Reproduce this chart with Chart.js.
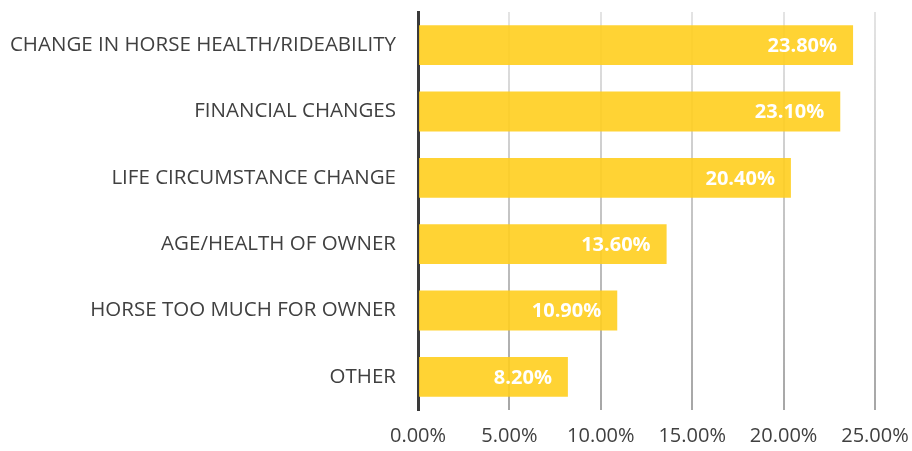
<!DOCTYPE html>
<html>
<head>
<meta charset="utf-8">
<script src="https://cdn.jsdelivr.net/npm/chart.js@4"></script>
<style>
html,body{margin:0;padding:0;background:#fff;}
#wrap{width:912px;height:451px;position:relative;}
</style>
</head>
<body>
<div id="wrap"><canvas id="c" width="912" height="451"></canvas></div>
<script>
const categories = ["CHANGE IN HORSE HEALTH/RIDEABILITY","FINANCIAL CHANGES","LIFE CIRCUMSTANCE CHANGE","AGE/HEALTH OF OWNER","HORSE TOO MUCH FOR OWNER","OTHER"];
const values = [23.8, 23.1, 20.4, 13.6, 10.9, 8.2];
const tickValues = [0, 5, 10, 15, 20, 25];

const FONT = "'Open Sans', sans-serif";

const labelPlugin = {
  id: 'barLabels',
  afterDatasetsDraw(chart) {
    const ctx = chart.ctx;
    const meta = chart.getDatasetMeta(0);
    ctx.save();
    ctx.fillStyle = '#ffffff';
    ctx.font = "bold 20px " + FONT;
    ctx.textAlign = 'right';
    ctx.textBaseline = 'middle';
    meta.data.forEach((bar, i) => {
      ctx.fillText(values[i].toFixed(2) + '%', bar.x - 16, bar.y + 1);
    });
    ctx.restore();
  }
};

function gridColor(c) {
  const chart = c.chart;
  const a = chart.chartArea;
  if (!a) return '#c8c8c8';
  const g = chart.ctx.createLinearGradient(0, a.top, 0, a.bottom);
  g.addColorStop(0, '#e4e4e4');
  g.addColorStop(1, '#a6a6a6');
  return g;
}

new Chart(document.getElementById('c'), {
  type: 'bar',
  data: {
    labels: categories,
    datasets: [{
      data: values,
      backgroundColor: 'rgba(255,206,30,0.9)',
      borderWidth: 0,
      barPercentage: 0.6,
      categoryPercentage: 1.0
    }]
  },
  options: {
    indexAxis: 'y',
    responsive: false,
    animation: false,
    layout: { padding: { top: 12, right: 37, left: 0, bottom: 0 } },
    plugins: { legend: { display: false }, tooltip: { enabled: false } },
    scales: {
      x: {
        min: 0, max: 25,
        afterBuildTicks(s) { s.ticks = tickValues.map(v => ({ value: v })); },
        afterFit(s) { s.paddingLeft = 0; s.paddingRight = 0; s.height = 41; },
        ticks: {
          callback: v => v.toFixed(2) + '%',
          color: '#404040',
          font: { family: FONT, size: 20 },
          padding: 14
        },
        grid: { color: gridColor, lineWidth: 2, drawTicks: false },
        border: { display: false }
      },
      y: {
        afterFit(s) { s.width = 418; s.paddingTop = 0; s.paddingBottom = 0; },
        ticks: {
          color: '#404040',
          font: { family: FONT, size: 20.5 },
          padding: 22
        },
        grid: { display: false, drawTicks: false },
        border: { display: true, color: '#3a3a3a', width: 3 }
      }
    }
  },
  plugins: [labelPlugin]
});
</script>
</body>
</html>
